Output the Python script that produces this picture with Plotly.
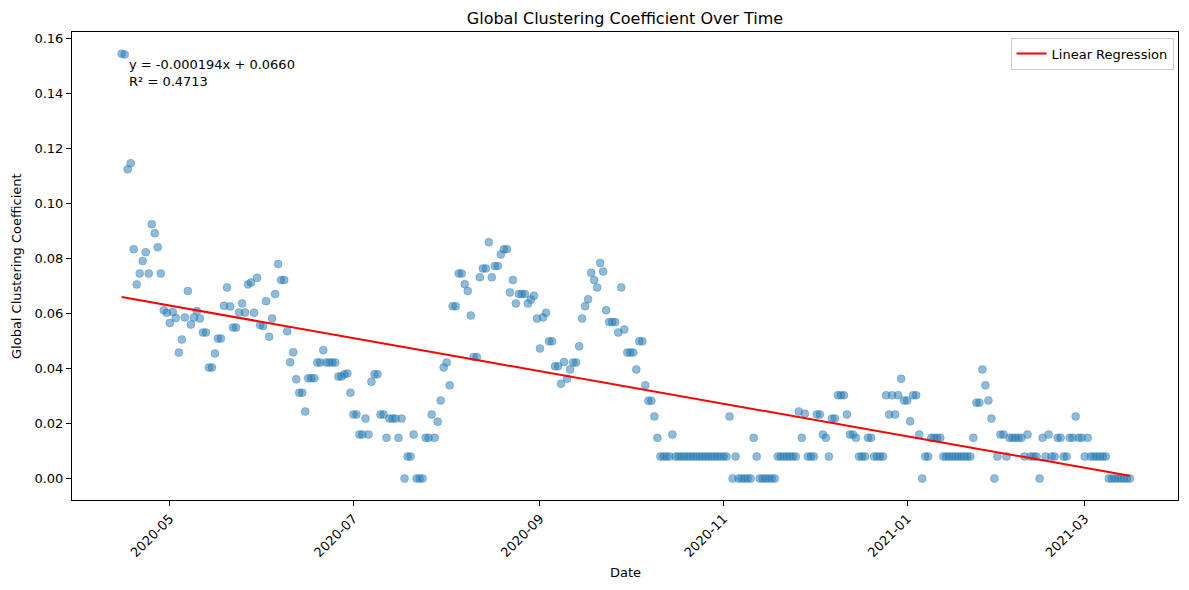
import numpy as np
import pandas as pd
import plotly.graph_objects as go

# Daily global clustering coefficient
start_date = "2020-04-15"
gcc = [
    0.1545, 0.1542, 0.1125, 0.1147, 0.0834, 0.0706, 0.0746, 0.0791, 0.0823, 0.0746,
    0.0925, 0.0892, 0.0841, 0.0746, 0.0612, 0.0603, 0.0566, 0.0606, 0.0584, 0.0458,
    0.0506, 0.0586, 0.0682, 0.0560, 0.0586, 0.0609, 0.0582, 0.0531, 0.0531, 0.0404,
    0.0404, 0.0455, 0.0509, 0.0509, 0.0628, 0.0695, 0.0626, 0.0549, 0.0549, 0.0604,
    0.0637, 0.0604, 0.0706, 0.0713, 0.0603, 0.0730, 0.0558, 0.0555, 0.0645, 0.0516,
    0.0582, 0.0671, 0.0780, 0.0722, 0.0722, 0.0536, 0.0423, 0.0459, 0.0361, 0.0312,
    0.0312, 0.0244, 0.0365, 0.0365, 0.0365, 0.0422, 0.0422, 0.0467, 0.0422, 0.0422,
    0.0422, 0.0422, 0.0371, 0.0371, 0.0379, 0.0382, 0.0312, 0.0233, 0.0233, 0.0160,
    0.0160, 0.0218, 0.0160, 0.0352, 0.0379, 0.0379, 0.0233, 0.0233, 0.0148, 0.0218,
    0.0218, 0.0218, 0.0148, 0.0218, 0.0000, 0.0080, 0.0080, 0.0160, 0.0000, 0.0000,
    0.0000, 0.0148, 0.0148, 0.0233, 0.0148, 0.0207, 0.0284, 0.0404, 0.0422, 0.0339,
    0.0627, 0.0627, 0.0746, 0.0746, 0.0707, 0.0682, 0.0593, 0.0442, 0.0442, 0.0732,
    0.0764, 0.0764, 0.0859, 0.0732, 0.0773, 0.0773, 0.0815, 0.0834, 0.0834, 0.0677,
    0.0722, 0.0637, 0.0671, 0.0671, 0.0671, 0.0637, 0.0651, 0.0665, 0.0582, 0.0473,
    0.0586, 0.0603, 0.0499, 0.0499, 0.0408, 0.0408, 0.0345, 0.0424, 0.0363, 0.0397,
    0.0422, 0.0422, 0.0481, 0.0582, 0.0627, 0.0652, 0.0748, 0.0722, 0.0695, 0.0784,
    0.0753, 0.0612, 0.0569, 0.0569, 0.0569, 0.0531, 0.0695, 0.0542, 0.0458, 0.0458,
    0.0458, 0.0397, 0.0499, 0.0499, 0.0339, 0.0283, 0.0283, 0.0226, 0.0148, 0.0080,
    0.0080, 0.0080, 0.0080, 0.0160, 0.0080, 0.0080, 0.0080, 0.0080, 0.0080, 0.0080,
    0.0080, 0.0080, 0.0080, 0.0080, 0.0080, 0.0080, 0.0080, 0.0080, 0.0080, 0.0080,
    0.0080, 0.0080, 0.0226, 0.0000, 0.0080, 0.0000, 0.0000, 0.0000, 0.0000, 0.0000,
    0.0148, 0.0080, 0.0000, 0.0000, 0.0000, 0.0000, 0.0000, 0.0000, 0.0080, 0.0080,
    0.0080, 0.0080, 0.0080, 0.0080, 0.0080, 0.0244, 0.0148, 0.0236, 0.0080, 0.0080,
    0.0080, 0.0233, 0.0233, 0.0160, 0.0148, 0.0080, 0.0218, 0.0218, 0.0303, 0.0303,
    0.0303, 0.0233, 0.0160, 0.0160, 0.0148, 0.0080, 0.0080, 0.0080, 0.0148, 0.0148,
    0.0080, 0.0080, 0.0080, 0.0080, 0.0303, 0.0233, 0.0303, 0.0233, 0.0303, 0.0363,
    0.0284, 0.0284, 0.0208, 0.0303, 0.0303, 0.0160, 0.0000, 0.0080, 0.0080, 0.0148,
    0.0148, 0.0148, 0.0148, 0.0080, 0.0080, 0.0080, 0.0080, 0.0080, 0.0080, 0.0080,
    0.0080, 0.0080, 0.0080, 0.0148, 0.0276, 0.0276, 0.0397, 0.0339, 0.0284, 0.0218,
    0.0000, 0.0080, 0.0160, 0.0160, 0.0080, 0.0148, 0.0148, 0.0148, 0.0148, 0.0148,
    0.0080, 0.0160, 0.0080, 0.0080, 0.0080, 0.0000, 0.0148, 0.0080, 0.0160, 0.0080,
    0.0080, 0.0148, 0.0148, 0.0080, 0.0080, 0.0148, 0.0148, 0.0226, 0.0148, 0.0148,
    0.0080, 0.0148, 0.0080, 0.0080, 0.0080, 0.0080, 0.0080, 0.0080, 0.0000, 0.0000,
    0.0000, 0.0000, 0.0000, 0.0000, 0.0000, 0.0000,
]

# regression stats as printed on the reference
slope = -0.000194
intercept = 0.0660
r2 = 0.4713

dates = pd.date_range(start_date, periods=len(gcc), freq="D")
day_idx = np.arange(len(gcc))
fit = slope * day_idx + intercept

font = "DejaVu Sans, sans-serif"
blue = "rgba(31,119,180,0.5)"

fig = go.Figure()
fig.add_trace(go.Scatter(
    x=dates, y=gcc, mode="markers", showlegend=False,
    marker=dict(size=8, color=blue, line=dict(color=blue, width=0.6)),
))
fig.add_trace(go.Scatter(
    x=dates, y=fit, mode="lines", name="Linear Regression",
    line=dict(color="red", width=2),
))

axis_common = dict(
    showline=True, linecolor="black", linewidth=1, mirror=True,
    ticks="outside", ticklen=5, tickwidth=1, tickcolor="black",
    showgrid=False, zeroline=False, automargin=False,
    tickfont=dict(family=font, size=13, color="black"),
)

# the page body has an 8px margin, so the figure starts 8px in from top/left
fig.update_layout(
    width=1181, height=582,
    margin=dict(l=64, r=11, t=24, b=90),
    paper_bgcolor="white", plot_bgcolor="white",
    font=dict(family=font, size=13, color="black"),
    title=dict(text="Global Clustering Coefficient Over Time",
               x=0.5, xref="paper", y=1 - 10 / 582, yref="container",
               xanchor="center", yanchor="middle",
               font=dict(family=font, size=16, color="black")),
    xaxis=dict(axis_common, range=["2020-03-29 12:00", "2021-04-01 00:00"],
               tick0="2020-05-01", dtick="M2", tickformat="%Y-%m",
               tickangle=-45),
    yaxis=dict(axis_common, range=[-0.0078, 0.1624], dtick=0.02,
               tickformat=".2f"),
    legend=dict(x=0.996, y=0.988, xanchor="right", yanchor="top",
                bgcolor="rgba(255,255,255,0.8)", bordercolor="#cccccc",
                borderwidth=1, font=dict(family=font, size=13)),
    annotations=[
        dict(text=f"y = {slope:.6f}x + {intercept:.4f}<br>R² = {r2:.4f}",
             xref="paper", yref="paper", x=0.05, y=0.95,
             xanchor="left", yanchor="top", align="left", showarrow=False,
             font=dict(family=font, size=13, color="black")),
        dict(text="Date", xref="paper", yref="paper", x=0.5, y=0,
             yshift=-72, xanchor="center", yanchor="middle", showarrow=False,
             font=dict(family=font, size=13, color="black")),
        dict(text="Global Clustering Coefficient", xref="paper", yref="paper",
             x=0, y=0.5, xshift=-56, textangle=-90, xanchor="center",
             yanchor="middle", showarrow=False,
             font=dict(family=font, size=13, color="black")),
    ],
)

fig.write_html("out.html")
